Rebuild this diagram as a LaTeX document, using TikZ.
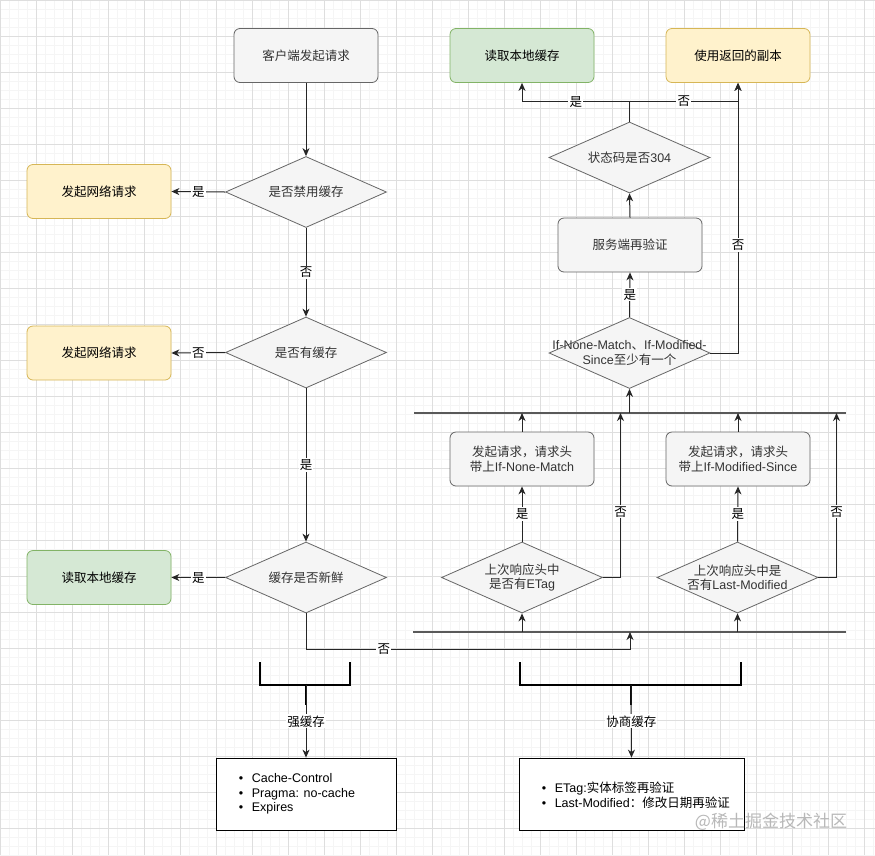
\documentclass[tikz,border=0pt]{standalone}
\usepackage{fontspec}
\setmainfont{Noto Sans CJK SC}
\newfontfamily\latinfont{Liberation Sans}
\newcommand{\en}[1]{{\latinfont #1}}
\usepackage{tikz}
\usetikzlibrary{arrows.meta}
\usetikzlibrary{shapes.geometric}
\usetikzlibrary{positioning}

\definecolor{greyfill}{HTML}{F5F5F5}
\definecolor{greyline}{HTML}{666666}
\definecolor{greenfill}{HTML}{D5E8D4}
\definecolor{greenline}{HTML}{82B366}
\definecolor{yellowfill}{HTML}{FFF2CC}
\definecolor{yellowline}{HTML}{D6B656}
\definecolor{textgrey}{HTML}{333333}

\begin{document}
\begin{tikzpicture}[
		x=1pt,
		y=-1pt,
		font=\fontsize{12.5}{14.5}\selectfont,
		>={Stealth[length=8pt, width=7pt, inset=2.5pt]}
		]
		\useasboundingbox (0,0) rectangle (875,855);
		\tikzstyle{minor grid}=[
			draw=black!4,
			line width=0.6pt
		]
		\tikzstyle{major grid}=[
			draw=black!13,
			line width=0.8pt
		]
		\tikzstyle{box}=[
			rectangle,
			rounded corners=6pt,
			draw,
			line width=0.8pt,
			minimum width=144pt,
			minimum height=54pt,
			inner sep=0pt,
			align=center
		]
		\tikzstyle{grey box}=[
			box,
			fill=greyfill,
			draw=greyline,
			text=textgrey
		]
		\tikzstyle{green box}=[
			box,
			fill=greenfill,
			draw=greenline
		]
		\tikzstyle{yellow box}=[
			box,
			fill=yellowfill,
			draw=yellowline
		]
		\tikzstyle{decision}=[
			diamond,
			draw=greyline,
			fill=greyfill,
			line width=0.8pt,
			minimum width=161pt,
			minimum height=71pt,
			inner sep=0pt
		]
		\tikzstyle{dtext}=[
			text=textgrey,
			align=center,
			inner sep=0pt
		]
		\tikzstyle{list box}=[
			rectangle,
			draw=black,
			fill=white,
			line width=0.8pt,
			minimum height=72pt,
			inner sep=0pt
		]
		\tikzstyle{list text}=[
			align=left,
			inner sep=0pt
		]
		\tikzstyle{flow}=[
			->,
			draw=black!85,
			line width=1pt
		]
		\tikzstyle{yn}=[
			fill=white,
			inner sep=1.2pt
		]
		\tikzstyle{bus}=[
			draw=black!65,
			line width=1.8pt
		]
		\tikzstyle{brace line}=[
			draw=black,
			line width=1.8pt
		]
		\tikzstyle{watermark}=[
			text=black!28,
			font=\fontsize{17}{17}\selectfont
		]
		% Draw the background grid.
			\fill[white] (0,0) rectangle (875,855);
			\foreach \g in {0, 9, ..., 873}
				\draw[minor grid] (\g,0) -- (\g,855);
			\foreach \g in {0, 9, ..., 855}
				\draw[minor grid] (0,\g) -- (875,\g);
			\foreach \g in {0, 36, ..., 873}
				\draw[major grid] (\g,0) -- (\g,855);
			\foreach \g in {0, 36, ..., 855}
				\draw[major grid] (0,\g) -- (875,\g);
		% Draw the strong cache column.
			\node[grey box] (client) at (306,55.5) {客户端发起请求};
			\node[decision, label={[dtext]center:是否禁用缓存}] (qNoCache) at (306,192) {};
			\node[yellow box] (net1) at (99,191.5) {发起网络请求};
			\node[decision, label={[dtext]center:是否有缓存}] (qHas) at (306,352.5) {};
			\node[yellow box] (net2) at (99,353) {发起网络请求};
			\node[decision, label={[dtext]center:缓存是否新鲜}] (qFresh) at (306,577.5) {};
			\node[green box] (localL) at (99,577.5) {读取本地缓存};
		% Draw the negotiation cache column.
			\node[decision, label={[dtext]center:上次响应头中\\是否有\en{ETag}}] (qETag) at (522,577.5) {};
			\node[decision, label={[dtext]center:上次响应头中是\\否有\en{Last-Modified}}] (qLM) at (737.5,577.5) {};
			\node[grey box] (reqINM) at (522,459) {发起请求，请求头\\带上\en{If-None-Match}};
			\node[grey box] (reqIMS) at (738,459) {发起请求，请求头\\带上\en{If-Modified-Since}};
			\node[decision, label={[dtext]center:\en{If-None-Match}、\en{If-Modified-}\\\en{Since}至少有一个}] (qAny) at (629.5,353) {};
			\node[grey box] (revalidate) at (630,245) {服务端再验证};
			\node[decision, label={[dtext]center:状态码是否\en{304}}] (q304) at (629.5,157.5) {};
			\node[green box] (localR) at (522,55.5) {读取本地缓存};
			\node[yellow box] (useCopy) at (738,55.5) {使用返回的副本};
		% Draw the two summary boxes.
			\node[list box, minimum width=180pt] (strongBox) at (306,794) {};
			\node[list text, right=23pt of strongBox.west] (strongList) {%
				\makebox[13pt][l]{\en{\textbullet}}\en{Cache-Control}\\
				\makebox[13pt][l]{\en{\textbullet}}\en{Pragma: no-cache}\\
				\makebox[13pt][l]{\en{\textbullet}}\en{Expires}};
			\node[list box, minimum width=225pt] (negBox) at (631.5,794) {};
			\node[list text, right=23pt of negBox.west, yshift=-1pt] (negList) {%
				\makebox[13pt][l]{\en{\textbullet}}\en{ETag:}实体标签再验证\\
				\makebox[13pt][l]{\en{\textbullet}}\en{Last-Modified}：修改日期再验证};
			\node[watermark] (mark) at (771,822) {@稀土掘金技术社区};
		% Define the bus lines and the free ends.
			\coordinate (busTopW) at (414,413);
			\coordinate (busTopE) at (846,413);
			\coordinate (busLowW) at (413,632);
			\coordinate (busLowE) at (846,632);
			\coordinate (freshIn) at (630,632);
			\coordinate (etagNo) at (620.5,413);
			\coordinate (lmNo) at (836.5,413);
			\coordinate (strongStem) at (306,685);
			\coordinate (negStem) at (631,685);
			\draw[bus] (busTopW) -- (busTopE);
			\draw[bus] (busLowW) -- (busLowE);
		% Connect the strong cache column.
			\draw[flow] (client.south) -- (qNoCache.north);
			\draw[flow] (qNoCache.west) -- node[yn]{是} (net1.east);
			\draw[flow] (qNoCache.south) -- node[yn]{否} (qHas.north);
			\draw[flow] (qHas.west) -- node[yn]{否} (net2.east);
			\draw[flow] (qHas.south) -- node[yn]{是} (qFresh.north);
			\draw[flow] (qFresh.west) -- node[yn]{是} (localL.east);
			\draw[flow] (qFresh.south) -- ++(0,36) -| node[yn, pos=0.12]{否} (freshIn);
		% Connect the negotiation cache column.
			\foreach \q / \r / \n in {qETag/reqINM/etagNo, qLM/reqIMS/lmNo} {
				\draw[flow] (\q.south |- busLowW) -- (\q.south);
				\draw[flow] (\q.north) -- node[yn]{是} (\r.south);
				\draw[flow] (\q.east) -| node[yn, pos=0.7]{否} (\n);
				\draw[flow] (\r.north) -- (\r.north |- busTopW);
			}
			\draw[flow] (qAny.south |- busTopW) -- (qAny.south);
			\draw[flow] (qAny.north) -- node[yn]{是} (revalidate.south);
			\draw[flow] (qAny.east) -| node[yn, pos=0.7]{否} (useCopy.south);
			\draw[flow] (revalidate.north) -- (q304.south);
			\draw[flow] (q304.north) -- ++(0,-20) -| node[yn, pos=0.25]{是} (localR.south);
			\draw[flow] (q304.north) -- ++(0,-20) -| node[yn, pos=0.25]{否} (useCopy.south);
		% Draw the brackets and their arrows.
			\draw[brace line] (260,662) |- (350,685) -- (350,662);
			\draw[brace line] (strongStem) -- ++(0,20);
			\draw[flow] (strongStem) -- node[yn]{强缓存} (strongBox.north);
			\draw[brace line] (520,662) |- (741,685) -- (741,662);
			\draw[brace line] (negStem) -- ++(0,20);
			\draw[flow] (negStem) -- node[yn]{协商缓存} (negBox.north);
	\end{tikzpicture}
\end{document}
